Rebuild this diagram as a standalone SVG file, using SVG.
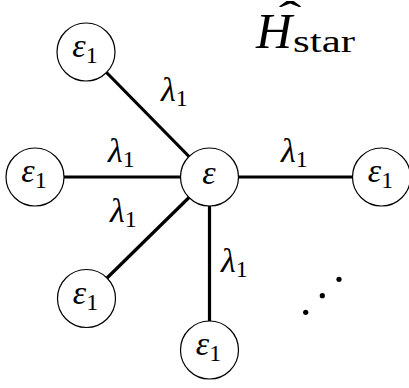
<svg xmlns="http://www.w3.org/2000/svg" width="409" height="388" viewBox="0 0 409 388">
<style>
.node circle{fill:#fff;stroke:#000;stroke-width:1.2}
.edge{stroke:#000;stroke-width:3.2;fill:none}
</style>
<g id="connectors">
<line class="edge" x1="106.5" y1="72.5" x2="189" y2="156.5"/>
<line class="edge" x1="64" y1="177" x2="180.5" y2="177"/>
<line class="edge" x1="238.5" y1="177" x2="352.5" y2="177"/>
<line class="edge" x1="107" y1="278" x2="189" y2="197.5"/>
<line class="edge" x1="209.5" y1="206" x2="209.5" y2="321"/>
</g>
<g id="edge-labels">
<text font-family="Liberation Serif" font-style="italic" font-size="34" x="161" y="101">λ<tspan font-style="normal" font-size="24" dy="5">1</tspan></text>
<text font-family="Liberation Serif" font-style="italic" font-size="34" x="108" y="162">λ<tspan font-style="normal" font-size="24" dy="5">1</tspan></text>
<text font-family="Liberation Serif" font-style="italic" font-size="34" x="281" y="162">λ<tspan font-style="normal" font-size="24" dy="5">1</tspan></text>
<text font-family="Liberation Serif" font-style="italic" font-size="34" x="110" y="222">λ<tspan font-style="normal" font-size="24" dy="5">1</tspan></text>
<text font-family="Liberation Serif" font-style="italic" font-size="34" x="221" y="272">λ<tspan font-style="normal" font-size="24" dy="5">1</tspan></text>
</g>
<g id="center" class="node"><circle cx="209.5" cy="177" r="29"/><text font-family="Liberation Serif" font-style="italic" font-size="34" x="209" y="184" text-anchor="middle">ε</text></g>
<g id="n-topleft" class="node"><circle cx="86" cy="52" r="29"/><text font-family="Liberation Serif" font-style="italic" font-size="34" x="85" y="57" text-anchor="middle">ε<tspan font-style="normal" font-size="24" dy="6">1</tspan></text></g>
<g id="n-left" class="node"><circle cx="35" cy="177" r="29"/><text font-family="Liberation Serif" font-style="italic" font-size="34" x="34" y="182" text-anchor="middle">ε<tspan font-style="normal" font-size="24" dy="6">1</tspan></text></g>
<g id="n-right" class="node"><circle cx="381.5" cy="177" r="29"/><text font-family="Liberation Serif" font-style="italic" font-size="34" x="380.5" y="182" text-anchor="middle">ε<tspan font-style="normal" font-size="24" dy="6">1</tspan></text></g>
<g id="n-bottomleft" class="node"><circle cx="86.5" cy="298.5" r="29"/><text font-family="Liberation Serif" font-style="italic" font-size="34" x="85.5" y="303.5" text-anchor="middle">ε<tspan font-style="normal" font-size="24" dy="6">1</tspan></text></g>
<g id="n-bottom" class="node"><circle cx="209.5" cy="350" r="29"/><text font-family="Liberation Serif" font-style="italic" font-size="34" x="208.5" y="355" text-anchor="middle">ε<tspan font-style="normal" font-size="24" dy="6">1</tspan></text></g>
<g id="dots">
<circle cx="305.7" cy="312.3" r="2.6"/>
<circle cx="322.3" cy="295.7" r="2.6"/>
<circle cx="339" cy="279.3" r="2.6"/>
</g>
<g id="title">
<text font-family="Liberation Serif" font-size="40" text-anchor="middle" transform="translate(290,29) scale(1.7,1)">ˆ</text>
<text font-family="Liberation Serif" font-style="italic" font-size="50" x="256" y="48">H</text>
<text font-family="Liberation Serif" font-size="32" x="293" y="52" textLength="62" lengthAdjust="spacingAndGlyphs">star</text>
</g>
</svg>
